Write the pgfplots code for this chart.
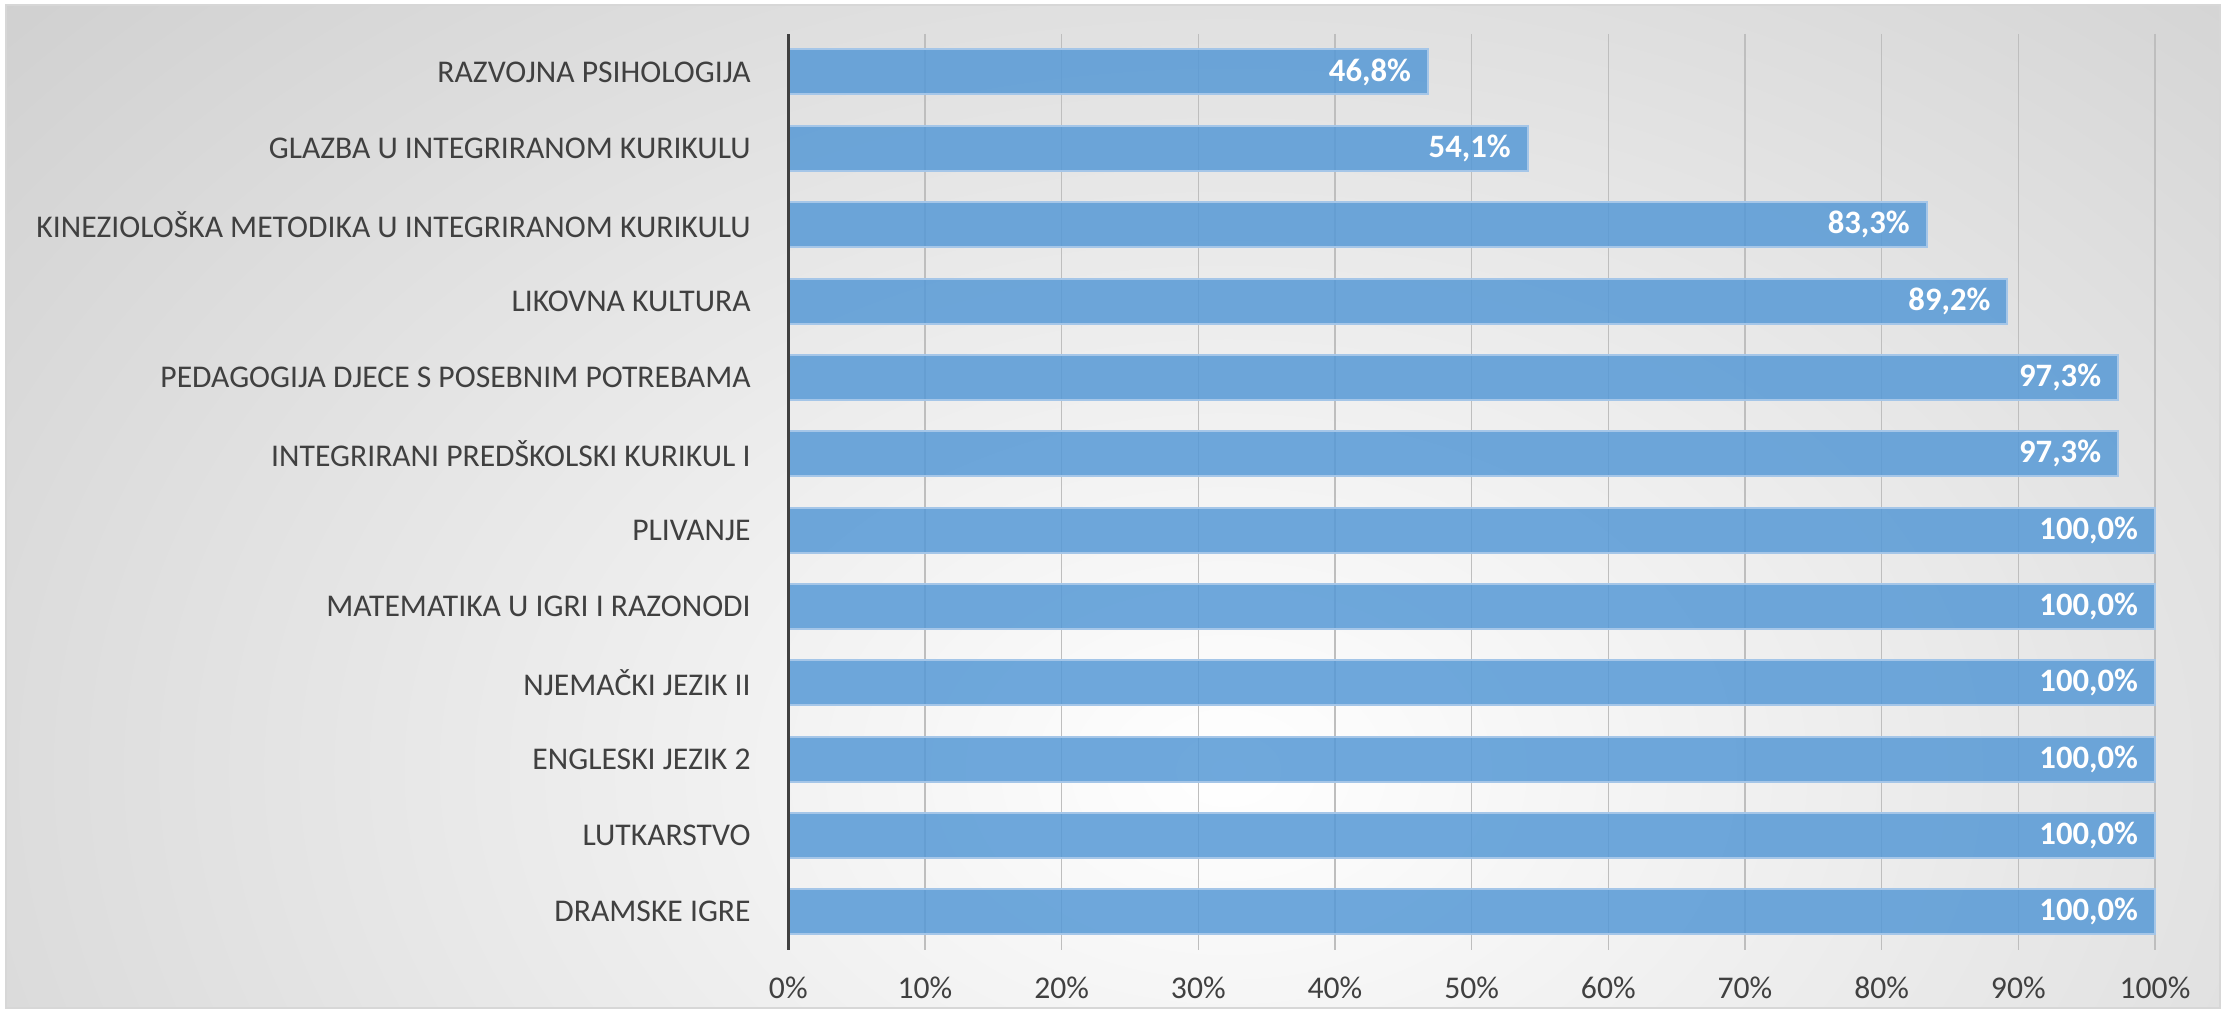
\documentclass[border=0pt]{standalone}
\usepackage{pgfplots}
\pgfplotsset{compat=1.18}
\usepackage{fontspec}
\setmainfont{Carlito}
\definecolor{barblue}{RGB}{86,153,214}
\definecolor{baredge}{RGB}{165,198,232}
\definecolor{txt}{RGB}{64,64,64}
\definecolor{gridc}{RGB}{190,190,190}
\definecolor{bgout}{RGB}{188,188,188}
\definecolor{framec}{RGB}{215,215,215}
\begin{document}
\begin{tikzpicture}
\useasboundingbox (-78.83mm,-6.4mm) rectangle (144.27mm,95.0mm);
\begin{scope}
\clip (-78.23mm,-5.8mm) rectangle (143.17mm,94.5mm);
\fill[bgout] (-78.23mm,-5.8mm) rectangle (143.17mm,94.5mm);
\shade[inner color=white, outer color=bgout] (44mm,18mm) ellipse [x radius=235mm, y radius=165mm];
\end{scope}
\draw[framec, line width=0.25mm] (-78.23mm,-5.8mm) rectangle (143.17mm,94.5mm);
\begin{axis}[
  at={(0,0)}, anchor=south west,
  scale only axis,
  width=136.67mm, height=91.62mm,
  xbar, bar width=4.5mm,
  xmin=0, xmax=100,
  ymin=-0.5, ymax=11.5,
  y dir=reverse,
  axis line style={draw=none},
  xtick={0,10,...,100},
  xticklabels={0\%,10\%,20\%,30\%,40\%,50\%,60\%,70\%,80\%,90\%,100\%},
  ytick={0,...,11},
  yticklabels={RAZVOJNA PSIHOLOGIJA,GLAZBA U INTEGRIRANOM KURIKULU,KINEZIOLOŠKA METODIKA U INTEGRIRANOM KURIKULU,LIKOVNA KULTURA,PEDAGOGIJA DJECE S POSEBNIM POTREBAMA,INTEGRIRANI PREDŠKOLSKI KURIKUL I,PLIVANJE,MATEMATIKA U IGRI I RAZONODI,NJEMAČKI JEZIK II,ENGLESKI JEZIK 2,LUTKARSTVO,DRAMSKE IGRE},
  major tick length=0pt,
  xmajorgrids=true,
  major grid style={draw=gridc, line width=0.15mm},
  tick label style={font=\fontsize{9}{10}\selectfont, text=txt},
  yticklabel style={anchor=east, inner sep=0pt, xshift=-3.7mm},
  xticklabel style={anchor=center, inner sep=0pt, yshift=-3.8mm},
  /pgf/number format/assume math mode=true,
  point meta=x,
  nodes near coords={\pgfmathprintnumber[assume math mode=true,fixed,fixed zerofill,precision=1,use comma]{\pgfplotspointmeta}\%},
  every node near coord/.append style={anchor=east, inner sep=0pt, xshift=-1.6mm, font=\fontsize{9.3}{10}\selectfont\bfseries, text=white, text opacity=1},
  clip=false,
]
\addplot[fill=barblue, fill opacity=0.85, draw=baredge, line width=0.2mm] coordinates {
  (46.8,0) (54.1,1) (83.3,2) (89.2,3) (97.3,4) (97.3,5)
  (100,6) (100,7) (100,8) (100,9) (100,10) (100,11)
};
\end{axis}
\draw[txt, line width=0.3mm] (0,0) -- (0,91.62mm);
\end{tikzpicture}
\end{document}
